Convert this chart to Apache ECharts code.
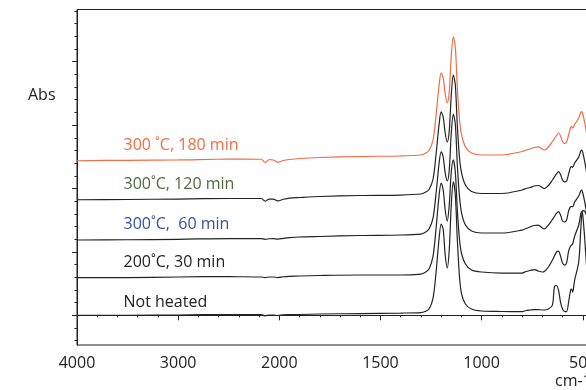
<!DOCTYPE html>
<html>
<head>
<meta charset="utf-8">
<script src="https://cdn.jsdelivr.net/npm/echarts@6/dist/echarts.min.js"></script>
<style>
  html, body { margin: 0; padding: 0; background: #fff; }
  #chart { width: 586px; height: 390px; }
</style>
</head>
<body>
<div id="chart"></div>
<script>
// FTIR spectra of heated samples, stacked with vertical offsets.
const wavenumbers = [4000, 3500, 3000, 2500, 2200, 2180, 2140, 2100, 2060, 2015, 1980, 1950, 1900, 1800, 1600, 1400, 1300, 1280, 1260, 1240, 1225, 1210, 1200, 1190, 1180, 1170, 1160, 1150, 1140, 1130, 1120, 1110, 1100, 1080, 1050, 1000, 900, 800, 780, 760, 740, 720, 700, 690, 670, 650, 640, 630, 620, 610, 600, 590, 580, 570, 560, 555, 550, 540, 520, 510, 505, 500, 490, 480];

const notHeated = [0, 0, 0.005, 0.013, 0.013, 0.013, -0.008, 0.005, 0.005, -0.003, 0.008, 0.011, 0.013, 0.021, 0.028, 0.036, 0.044, 0.060, 0.099, 0.273, 0.683, 1.219, 1.440, 1.361, 0.951, 0.746, 1.030, 1.740, 2.103, 1.897, 1.188, 0.636, 0.352, 0.178, 0.099, 0.068, 0.060, 0.057, 0.076, 0.084, 0.091, 0.091, 0.084, 0.084, 0.099, 0.162, 0.454, 0.470, 0.399, 0.210, 0.099, 0.060, 0.057, 0.210, 0.399, 0.415, 0.367, 0.557, 0.841, 1.345, 1.580, 1.650, 1.640, 1.560];

const heated200_30 = [0.593, 0.596, 0.604, 0.612, 0.604, 0.604, 0.596, 0.604, 0.604, 0.596, 0.608, 0.614, 0.620, 0.628, 0.636, 0.636, 0.651, 0.675, 0.730, 0.935, 1.377, 1.897, 2.087, 1.976, 1.661, 1.487, 1.740, 2.260, 2.450, 2.260, 1.661, 1.219, 0.983, 0.809, 0.715, 0.683, 0.667, 0.667, 0.691, 0.707, 0.722, 0.699, 0.683, 0.691, 0.762, 0.872, 0.935, 0.998, 1.014, 0.935, 0.825, 0.793, 0.825, 1.014, 1.093, 1.109, 1.125, 1.251, 1.424, 1.598, 1.634, 1.582, 1.188, 0.715];

const heated300_60 = [1.188, 1.192, 1.199, 1.211, 1.211, 1.211, 1.198, 1.208, 1.211, 1.203, 1.215, 1.225, 1.235, 1.243, 1.259, 1.267, 1.282, 1.306, 1.361, 1.535, 1.929, 2.402, 2.580, 2.497, 2.245, 2.118, 2.292, 2.875, 3.170, 3.017, 2.371, 1.897, 1.629, 1.424, 1.330, 1.298, 1.298, 1.345, 1.369, 1.393, 1.416, 1.424, 1.377, 1.361, 1.424, 1.511, 1.558, 1.606, 1.634, 1.582, 1.487, 1.472, 1.503, 1.645, 1.713, 1.716, 1.713, 1.787, 1.882, 1.961, 1.976, 1.929, 1.787, 1.598];

const heated300_120 = [1.823, 1.827, 1.834, 1.842, 1.842, 1.842, 1.800, 1.834, 1.834, 1.805, 1.830, 1.848, 1.858, 1.874, 1.890, 1.897, 1.913, 1.937, 1.984, 2.150, 2.544, 3.017, 3.207, 3.128, 2.875, 2.733, 2.907, 3.475, 3.790, 3.633, 2.986, 2.513, 2.260, 2.055, 1.953, 1.921, 1.921, 1.976, 2.000, 2.016, 2.039, 2.047, 2.016, 2.000, 2.047, 2.134, 2.181, 2.229, 2.265, 2.221, 2.134, 2.103, 2.118, 2.229, 2.339, 2.344, 2.331, 2.402, 2.497, 2.592, 2.607, 2.568, 2.418, 2.229];

const heated300_180 = [2.438, 2.445, 2.450, 2.465, 2.461, 2.461, 2.410, 2.455, 2.450, 2.413, 2.442, 2.457, 2.473, 2.489, 2.505, 2.513, 2.528, 2.552, 2.599, 2.765, 3.159, 3.633, 3.822, 3.743, 3.491, 3.349, 3.522, 4.090, 4.390, 4.232, 3.585, 3.112, 2.860, 2.655, 2.560, 2.528, 2.528, 2.584, 2.607, 2.623, 2.647, 2.655, 2.623, 2.607, 2.655, 2.741, 2.789, 2.836, 2.875, 2.828, 2.741, 2.710, 2.733, 2.844, 2.962, 2.975, 2.954, 3.009, 3.112, 3.199, 3.211, 3.175, 3.033, 2.844];

const seriesNames = ['Not heated', '200˚C, 30 min', '300˚C,  60 min', '300˚C, 120 min', '300 ˚C, 180 min'];
const seriesValues = [notHeated, heated200_30, heated300_60, heated300_120, heated300_180];
const lineColors = ['#222222', '#222222', '#222222', '#222222', '#f26b43'];
const labelColors = ['#222222', '#222222', '#3351a2', '#4d6a3f', '#f26b43'];

const xTickLabels = [4000, 3000, 2000, 1500, 1000, 500];
const yMajorTicks = [0, 1, 2, 3, 4];
const yMinorTicks = [-0.4, -0.2, 0.2, 0.4, 0.6, 0.8, 1.2, 1.4, 1.6, 1.8, 2.2, 2.4, 2.6, 2.8, 3.2, 3.4, 3.6, 3.8, 4.2, 4.4, 4.6, 4.8];

// The wavenumber axis changes scale at 2000 cm-1 (twice as wide below it).
function toAxis(w) {
  return w >= 2000 ? 4000 - w : 2000 + 2 * (2000 - w);
}
function fromAxis(u) {
  return u <= 2000 ? 4000 - u : 2000 - (u - 2000) / 2;
}

const FONT = '"Open Sans", "Noto Sans", sans-serif';
const chart = echarts.init(document.getElementById('chart'), null, { renderer: 'canvas' });

const series = seriesValues.map((vals, i) => ({
  name: seriesNames[i],
  type: 'line',
  yAxisIndex: 0,
  data: wavenumbers.map((w, k) => [toAxis(w), vals[k]]),
  showSymbol: false,
  smooth: 0.3,
  lineStyle: { color: lineColors[i], width: 1.2 },
  silent: true
}));

const labelY = [302, 262.5, 224, 184, 145];

chart.setOption({
  animation: false,
  backgroundColor: '#ffffff',
  grid: {
    left: 77, top: 9.5, right: -17, bottom: 45,
    outerBoundsMode: 'none', containLabel: false,
    show: true, borderColor: '#222', borderWidth: 1, backgroundColor: 'transparent'
  },
  xAxis: {
    type: 'value', min: 0, max: 5200, interval: 1000,
    axisLine: { lineStyle: { color: '#222', width: 1 } },
    axisTick: { length: 5, lineStyle: { color: '#222' } },
    minorTick: { show: true, splitNumber: 5, length: 2, lineStyle: { color: '#222' } },
    splitLine: { show: false },
    axisLabel: {
      margin: 10, fontFamily: FONT, fontSize: 16, color: '#222',
      showMaxLabel: false, hideOverlap: false,
      formatter: (u) => {
        const w = fromAxis(u);
        return xTickLabels.indexOf(w) >= 0 ? String(w) : '';
      }
    }
  },
  yAxis: [
    {
      type: 'value', min: -0.468, max: 4.823,
      axisLine: { show: true, lineStyle: { color: '#222', width: 1 } },
      axisTick: { show: true, length: 5, customValues: yMajorTicks, lineStyle: { color: '#222' } },
      axisLabel: { show: false },
      splitLine: { show: false }
    },
    {
      type: 'value', min: -0.468, max: 4.823, position: 'left',
      axisLine: { show: true, lineStyle: { color: '#222', width: 1 } },
      axisTick: { show: true, length: 2.5, customValues: yMinorTicks, lineStyle: { color: '#222' } },
      axisLabel: { show: false },
      splitLine: { show: false }
    }
  ],
  series: series,
  graphic: [
    {
      type: 'text', left: 28, top: 87,
      style: { text: 'Abs', fontFamily: FONT, fontSize: 16, fill: '#222' }
    },
    {
      type: 'text', left: 555, top: 373,
      style: { text: 'cm-1', fontFamily: FONT, fontSize: 16, fill: '#222' }
    }
  ].concat(seriesNames.map((name, i) => ({
    type: 'text', x: 123.5, y: labelY[i],
    style: {
      text: name, fontFamily: FONT, fontSize: 16, fill: labelColors[i],
      verticalAlign: 'middle', align: 'left'
    }
  })))
});
</script>
</body>
</html>
